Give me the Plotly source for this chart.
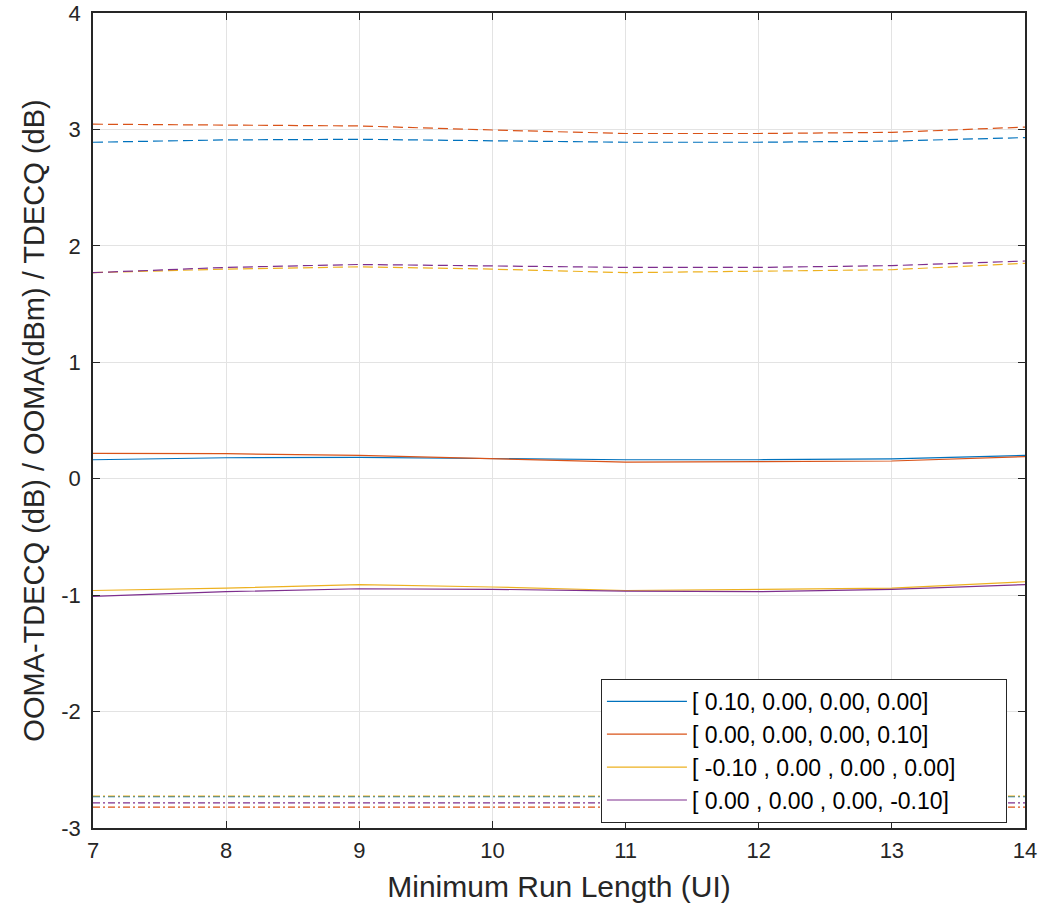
import plotly.graph_objects as go

run_length = [7, 8, 9, 10, 11, 12, 13, 14]
y_ticks = [-3, -2, -1, 0, 1, 2, 3, 4]
y_tick_text = ["-3", "-2", "-1", "0", "1", "2", "3", "4"]
labels = ["[ 0.10, 0.00, 0.00, 0.00]", "[ 0.00, 0.00, 0.00, 0.10]",
          "[ -0.10 , 0.00 , 0.00 , 0.00]", "[ 0.00 , 0.00 , 0.00, -0.10]"]
colors = ["#0072BD", "#D95319", "#EDB120", "#7E2F8E"]

# OOMA - TDECQ (solid)
ooma_tdecq_blue = [0.163, 0.18, 0.183, 0.17, 0.163, 0.163, 0.17, 0.20]
ooma_tdecq_orange = [0.217, 0.215, 0.20, 0.17, 0.143, 0.146, 0.152, 0.19]
ooma_tdecq_yellow = [-0.96, -0.94, -0.91, -0.93, -0.96, -0.95, -0.94, -0.885]
ooma_tdecq_purple = [-1.01, -0.97, -0.945, -0.95, -0.965, -0.97, -0.95, -0.91]

# TDECQ (dashed)
tdecq_blue = [2.89, 2.91, 2.915, 2.90, 2.89, 2.89, 2.90, 2.93]
tdecq_orange = [3.045, 3.04, 3.03, 2.995, 2.965, 2.965, 2.975, 3.02]
tdecq_yellow = [1.77, 1.80, 1.82, 1.80, 1.77, 1.78, 1.795, 1.85]
tdecq_purple = [1.77, 1.815, 1.84, 1.83, 1.815, 1.815, 1.83, 1.87]

# OOMA (dash-dot)
ooma_blue = [-2.73] * 8
ooma_orange = [-2.82] * 8
ooma_yellow = [-2.725] * 8
ooma_purple = [-2.785] * 8

solid = [ooma_tdecq_blue, ooma_tdecq_orange, ooma_tdecq_yellow, ooma_tdecq_purple]
dashed = [tdecq_blue, tdecq_orange, tdecq_yellow, tdecq_purple]
dashdot = [ooma_blue, ooma_orange, ooma_yellow, ooma_purple]

pad = "\u00a0" * 7  # extra right padding inside the legend box

fig = go.Figure()
for i in range(4):
    fig.add_trace(go.Scatter(x=run_length, y=solid[i], mode="lines", name=labels[i] + pad,
                             line=dict(color=colors[i], width=1.2), showlegend=True))
for i in range(4):
    fig.add_trace(go.Scatter(x=run_length, y=dashed[i], mode="lines", showlegend=False,
                             line=dict(color=colors[i], width=1.2, dash="10px,5px")))
for i in range(4):
    fig.add_trace(go.Scatter(x=run_length, y=dashdot[i], mode="lines", showlegend=False,
                             line=dict(color=colors[i], width=1.2, dash="7px,3px,2px,3px")))

axis_common = dict(showline=True, linecolor="#262626", linewidth=1.5, mirror="ticks",
                   ticks="inside", ticklen=7, tickcolor="#262626", automargin=False,
                   showgrid=True, gridcolor="#e3e3e3", gridwidth=1, zeroline=False,
                   ticklabeloverflow="allow",
                   tickfont=dict(size=22, color="#262626"))

fig.update_xaxes(range=[7, 14], tickvals=run_length, ticklabelstandoff=2,
                 title=dict(text="Minimum Run Length (UI)",
                            font=dict(size=30, color="#262626"), standoff=14), **axis_common)
fig.update_yaxes(range=[-3, 4], tickvals=y_ticks, ticktext=y_tick_text, ticklabelstandoff=6,
                 title=dict(text="OOMA-TDECQ (dB) / OOMA(dBm) / TDECQ (dB)",
                            font=dict(size=29, color="#262626"), standoff=8), **axis_common)

fig.update_layout(
    width=1061, height=913,
    margin=dict(l=93, r=36, t=13, b=85),
    plot_bgcolor="white", paper_bgcolor="white",
    font=dict(family="Arial, Liberation Sans, sans-serif", color="#262626"),
    legend=dict(x=0.545, y=0.183, xanchor="left", yanchor="top",
                bgcolor="white", bordercolor="#262626", borderwidth=1,
                font=dict(size=23, color="#000000"), itemwidth=80,
                tracegroupgap=0),
)

fig.write_html("out.html", config={"displayModeBar": False},
               post_script="document.body.style.margin='0';document.body.style.padding='0';")
